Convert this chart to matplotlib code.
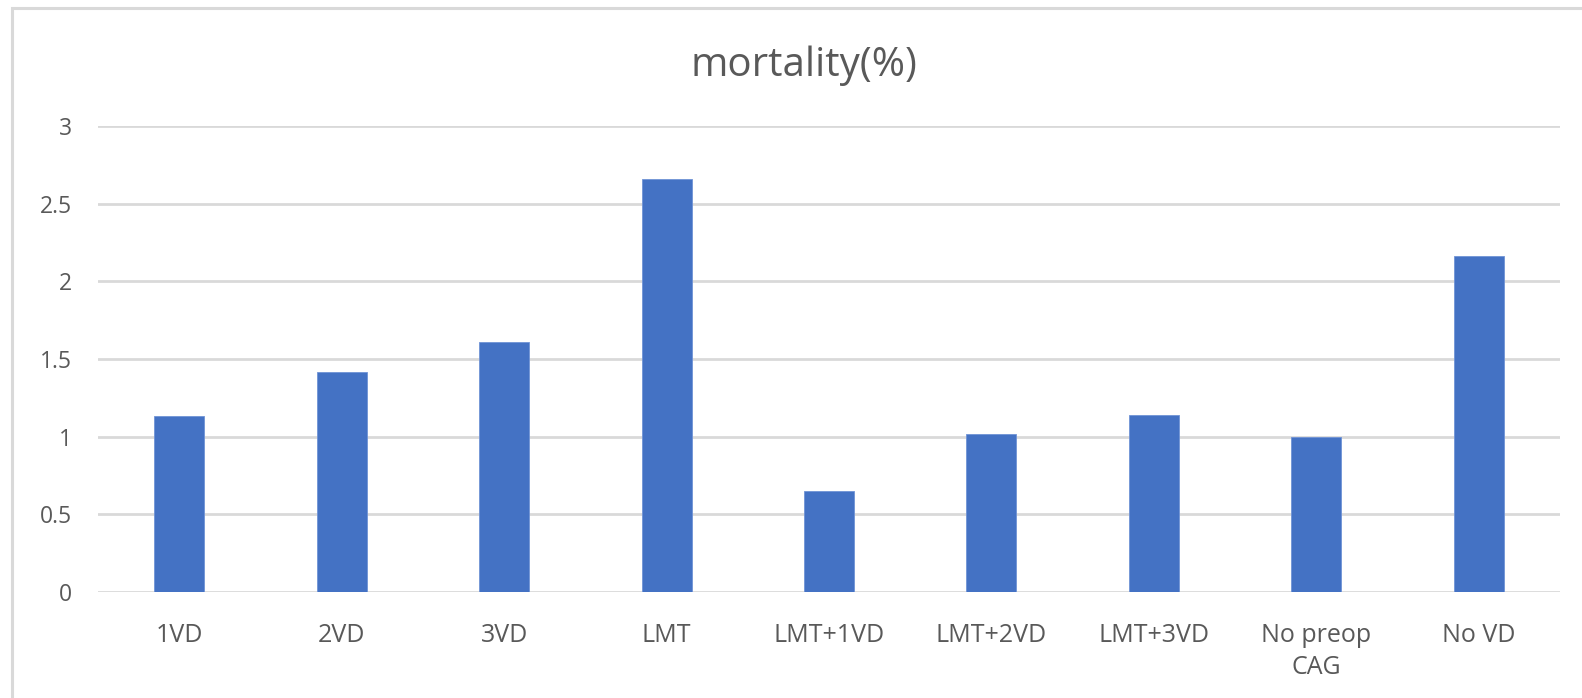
import matplotlib
matplotlib.use("Agg")
import matplotlib.pyplot as plt
from matplotlib.patches import Rectangle

categories = ["1VD", "2VD", "3VD", "LMT", "LMT+1VD", "LMT+2VD", "LMT+3VD", "No preop\nCAG", "No VD"]
mortality = [1.133, 1.415, 1.608, 2.66, 0.652, 1.02, 1.138, 1.0, 2.164]
yticks = [0, 0.5, 1, 1.5, 2, 2.5, 3]
ytick_labels = ["0", "0.5", "1", "1.5", "2", "2.5", "3"]
title = "mortality(%)"

plt.rcParams['font.family'] = ['Open Sans', 'DejaVu Sans']
text_color = "#595959"
grid_color = "#d9d9d9"
bar_color = "#4472C4"

W, H = 1582, 698
fig = plt.figure(figsize=(W / 100, H / 100), dpi=100)
fig.patch.set_facecolor("white")

# chart area border (cropped at right and bottom)
fig.patches.append(Rectangle((12.5 / W, -0.1), 1.2, 1 - 7.5 / H + 0.1,
                             transform=fig.transFigure, fill=False,
                             edgecolor=grid_color, linewidth=2.2, zorder=0))

ax = fig.add_axes([98 / W, 1 - 592 / H, (1560 - 98) / W, (592 - 126) / H])
x = list(range(len(categories)))
ax.bar(x, mortality, width=0.308, color=bar_color, zorder=3,
       edgecolor="#6f93d6", linewidth=0.6)
ax.set_xlim(-0.5, len(categories) - 0.5)
ax.set_ylim(0, 3)
ax.set_yticks(yticks)
ax.set_yticklabels(ytick_labels)
ax.set_xticks(x)
ax.set_xticklabels(categories, linespacing=1.38)
for s in ax.spines.values():
    s.set_visible(False)
ax.yaxis.grid(True, color=grid_color, linewidth=2.0, zorder=0)
ax.set_axisbelow(True)
ax.tick_params(axis="both", length=0, colors=text_color)
ax.tick_params(axis="y", pad=19, labelsize=16.5)
ax.tick_params(axis="x", pad=22, labelsize=18)

fig.text(804 / W, 1 - 66 / H, title, ha="center", va="center",
         fontsize=29, color=text_color)

fig.savefig("out.png", dpi=100)
